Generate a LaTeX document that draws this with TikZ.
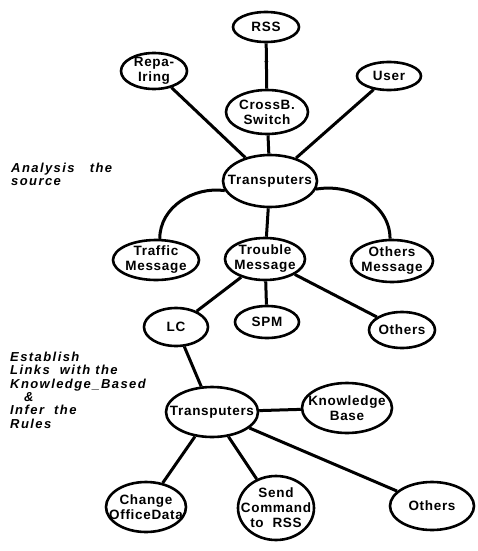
\documentclass[tikz,border=0pt]{standalone}
\usepackage{fontspec}
\setmainfont{Liberation Sans}
\usetikzlibrary{shapes.geometric,arrows.meta,decorations.markings}
\begin{document}
\begin{tikzpicture}[x=1pt,y=-1pt,
  el/.style={draw, ellipse, line width=2.6pt, inner sep=-10pt, align=center,
    font=\fontsize{13.5}{15}\selectfont\bfseries\addfontfeatures{LetterSpace=5}},
  conn/.style={line width=3pt},
  lbl/.style={font=\fontsize{13}{13.3}\selectfont\bfseries\itshape\addfontfeatures{LetterSpace=11}, align=left, anchor=north west, inner sep=0pt}]
\useasboundingbox (0,0) rectangle (478,551);
% top part
\node[el, minimum width=66pt, minimum height=30pt] (rss) at (266,27) {RSS};
\node[el, minimum width=66pt, minimum height=36pt] (rep) at (154,71) {Repa-\\Iring};
\node[el, minimum width=64pt, minimum height=28pt] (user) at (389,76) {User};
\node[el, minimum width=82pt, minimum height=44pt] (cross) at (267,112) {CrossB.\\Switch};
\node[el, minimum width=94pt, minimum height=52pt] (t1) at (270,181) {Transputers};
\node[el, minimum width=86pt, minimum height=40pt] (traffic) at (156,260) {Traffic\\Message};
\node[el, minimum width=80pt, minimum height=42pt] (trouble) at (265,259) {Trouble\\Message};
\node[el, minimum width=82pt, minimum height=42pt] (othm) at (392,261) {Others\\Message};
\node[el, minimum width=64pt, minimum height=38pt] (lc) at (176,327) {LC};
\node[el, minimum width=64pt, minimum height=32pt] (spm) at (267,322) {SPM};
\node[el, minimum width=66pt, minimum height=36pt] (oth1) at (402,330) {Others};
% bottom part
\node[el, minimum width=92pt, minimum height=50pt] (t2) at (212,412) {Transputers};
\node[el, minimum width=90pt, minimum height=50pt] (kb) at (347,408) {Knowledge\\Base};
\node[el, minimum width=80pt, minimum height=50pt] (chg) at (146,507) {Change\\OfficeData};
\node[el, minimum width=76pt, minimum height=64pt] (send) at (276,508) {Send\\Command\\to~~RSS};
\node[el, minimum width=84pt, minimum height=48pt] (oth2) at (432,506) {Others};
% side labels
\node[lbl] (lab1) at (11,163) {Analysis~~~the\\source};
\node[lbl] (lab2) at (10,352) {Establish\\Links~~with the\\Knowledge\_Based\\\hspace*{14pt}\&\\Infer~~the\\Rules};
% connectors
\draw[conn, postaction={decorate, decoration={markings,
   mark=at position 0.5 with {\arrow{Stealth[length=5pt,width=4pt]}}}}] (rss) -- (cross);
\draw[conn] (rep) -- (t1);
\draw[conn] (user) -- (t1);
\draw[conn] (cross) -- (t1);
\draw[conn] (t1) -- (trouble);
\draw[conn] (t1.192) to[out=172,in=90] (traffic.80);
\draw[conn] (t1.-10) to[out=10,in=90] (othm.95);
\draw[conn] (trouble) -- (lc);
\draw[conn] (trouble) -- (spm);
\draw[conn] (trouble) -- (oth1);
\draw[conn] (lc) -- (t2);
\draw[conn] (t2) -- (kb);
\draw[conn] (t2) -- (chg);
\draw[conn] (t2) -- (send);
\draw[conn] (t2) -- (oth2);
\end{tikzpicture}
\end{document}
